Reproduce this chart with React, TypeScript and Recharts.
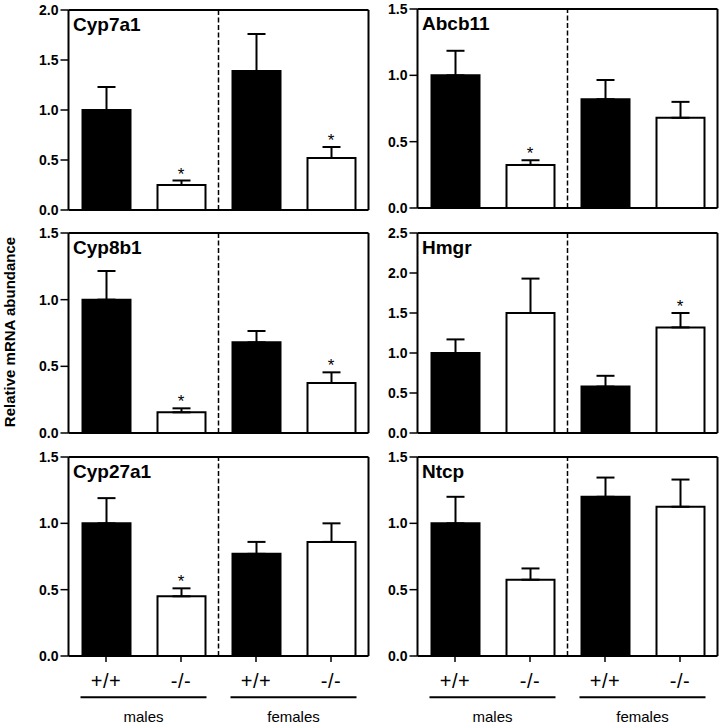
import React from 'react';
import { ComposedChart, Bar, Cell, XAxis, YAxis, ErrorBar, ReferenceLine, Scatter } from 'recharts';

// ---- categories / labels ----
const positions = [0.5, 1.5, 2.5, 3.5];
const genotypeLabels = ['+/+', '-/-', '+/+', '-/-'];
const groupPositions = [1, 3];
const groupLabels = ['males', 'females'];
const barFills = ['#000000', '#ffffff', '#000000', '#ffffff'];

// ---- data (mean, SEM upper, significance) ----
const cyp7a1Mean = [1.0, 0.25, 1.39, 0.52];
const cyp7a1Err = [0.23, 0.045, 0.37, 0.11];
const cyp7a1Sig = [false, true, false, true];

const abcb11Mean = [1.0, 0.325, 0.82, 0.68];
const abcb11Err = [0.185, 0.035, 0.145, 0.12];
const abcb11Sig = [false, true, false, false];

const cyp8b1Mean = [1.0, 0.155, 0.68, 0.375];
const cyp8b1Err = [0.215, 0.03, 0.085, 0.08];
const cyp8b1Sig = [false, true, false, true];

const hmgrMean = [1.0, 1.5, 0.58, 1.32];
const hmgrErr = [0.17, 0.43, 0.135, 0.18];
const hmgrSig = [false, false, false, true];

const cyp27a1Mean = [1.0, 0.45, 0.77, 0.86];
const cyp27a1Err = [0.19, 0.06, 0.09, 0.14];
const cyp27a1Sig = [false, true, false, false];

const ntcpMean = [1.0, 0.575, 1.2, 1.125];
const ntcpErr = [0.2, 0.085, 0.145, 0.205];
const ntcpSig = [false, false, false, false];

const ticks15 = [0, 0.5, 1.0, 1.5];
const ticks20 = [0, 0.5, 1.0, 1.5, 2.0];
const ticks25 = [0, 0.5, 1.0, 1.5, 2.0, 2.5];

const FONT = "Arial, 'Liberation Sans', Helvetica, sans-serif";

type PanelProps = {
  title: string;
  mean: number[];
  err: number[];
  sig: boolean[];
  yMax: number;
  yTicks: number[];
  left: number;
  plotTop: number;
  plotHeight: number;
  bottomRow: boolean;
};

const GroupTick = (props: any) => {
  const { x, y, payload } = props;
  const idx = groupPositions.indexOf(payload.value);
  return (
    <g>
      <line x1={x - 63} x2={x + 63} y1={y + 11.3} y2={y + 11.3} stroke="#000" strokeWidth={2} />
      <text x={x} y={y + 35.7} textAnchor="middle" fontSize={15} fill="#000" fontFamily={FONT}>
        {groupLabels[idx]}
      </text>
    </g>
  );
};

const StarShape = (props: any) => {
  const { cx, cy } = props;
  if (cx == null || cy == null || isNaN(cy)) return <g />;
  return (
    <text x={cx} y={cy - 1} textAnchor="middle" fontSize={17} fill="#000" fontFamily={FONT}>
      *
    </text>
  );
};

function Panel(p: PanelProps) {
  const data = positions.map((x, i) => ({
    x,
    mean: p.mean[i],
    errRange: [0, p.err[i]],
  }));
  const starData = positions
    .map((x, i) => ({ x, star: p.sig[i] ? p.mean[i] + p.err[i] : null }))
    .filter((d) => d.star !== null);
  const topMargin = 10;
  const mainAxisH = p.bottomRow ? 30 : 10;
  const grpAxisH = p.bottomRow ? 38 : 0;
  const height = topMargin + p.plotHeight + mainAxisH + grpAxisH;
  return (
    <div style={{ position: 'absolute', left: p.left, top: p.plotTop - topMargin }}>
      <ComposedChart
        width={370}
        height={height}
        data={data}
        margin={{ top: topMargin, right: 1.5, left: 0, bottom: 0 }}
      >
        <XAxis
          dataKey="x"
          type="number"
          domain={[0, 4]}
          ticks={positions}
          interval={0}
          allowDataOverflow
          height={mainAxisH}
          axisLine={{ stroke: '#000', strokeWidth: 2 }}
          tickLine={{ stroke: '#000', strokeWidth: 1.5 }}
          tickSize={6}
          tickMargin={12}
          tick={p.bottomRow ? { fill: '#000', fontSize: 20, fontFamily: FONT, letterSpacing: 0.5 } : false}
          tickFormatter={(v: number) => genotypeLabels[positions.indexOf(v)] ?? ''}
        />
        {p.bottomRow && (
          <XAxis
            xAxisId="grp"
            dataKey="x"
            type="number"
            domain={[0, 4]}
            ticks={groupPositions}
            interval={0}
            allowDataOverflow
            height={grpAxisH}
            axisLine={false}
            tickLine={false}
            tickSize={0}
            tickMargin={0}
            tick={<GroupTick />}
          />
        )}
        <YAxis
          type="number"
          domain={[0, p.yMax]}
          ticks={p.yTicks}
          interval={0}
          allowDataOverflow
          width={68.5}
          axisLine={{ stroke: '#000', strokeWidth: 2 }}
          tickLine={{ stroke: '#000', strokeWidth: 1.5 }}
          tickSize={8}
          tickMargin={2}
          tick={{ fill: '#000', fontSize: 14, fontWeight: 'bold', fontFamily: FONT }}
          tickFormatter={(v: number) => v.toFixed(1)}
        />
        <ReferenceLine y={p.yMax} stroke="#000" strokeWidth={2} />
        <ReferenceLine x={4} stroke="#000" strokeWidth={2} />
        <ReferenceLine x={2} stroke="#000" strokeWidth={1.5} strokeDasharray="5 2.5" />
        <Bar dataKey="mean" barSize={48} stroke="#000" strokeWidth={2} isAnimationActive={false}>
          {data.map((_, i) => (
            <Cell key={i} fill={barFills[i]} />
          ))}
          <ErrorBar dataKey="errRange" direction="y" width={9} stroke="#000" strokeWidth={2} isAnimationActive={false} />
        </Bar>
        <Scatter data={starData} dataKey="star" shape={<StarShape />} isAnimationActive={false} />
      </ComposedChart>
    </div>
  );
}

const panels: PanelProps[] = [
  { title: 'Cyp7a1', mean: cyp7a1Mean, err: cyp7a1Err, sig: cyp7a1Sig, yMax: 2.0, yTicks: ticks20, left: 0, plotTop: 10, plotHeight: 200, bottomRow: false },
  { title: 'Abcb11', mean: abcb11Mean, err: abcb11Err, sig: abcb11Sig, yMax: 1.5, yTicks: ticks15, left: 349, plotTop: 9, plotHeight: 199, bottomRow: false },
  { title: 'Cyp8b1', mean: cyp8b1Mean, err: cyp8b1Err, sig: cyp8b1Sig, yMax: 1.5, yTicks: ticks15, left: 0, plotTop: 233, plotHeight: 200, bottomRow: false },
  { title: 'Hmgr', mean: hmgrMean, err: hmgrErr, sig: hmgrSig, yMax: 2.5, yTicks: ticks25, left: 349, plotTop: 233, plotHeight: 200, bottomRow: false },
  { title: 'Cyp27a1', mean: cyp27a1Mean, err: cyp27a1Err, sig: cyp27a1Sig, yMax: 1.5, yTicks: ticks15, left: 0, plotTop: 457, plotHeight: 199, bottomRow: true },
  { title: 'Ntcp', mean: ntcpMean, err: ntcpErr, sig: ntcpSig, yMax: 1.5, yTicks: ticks15, left: 349, plotTop: 457, plotHeight: 199, bottomRow: true },
];

export default function App() {
  return (
    <div
      style={{
        position: 'absolute',
        left: 0,
        top: 0,
        width: 722,
        height: 725,
        overflow: 'hidden',
        background: '#fff',
        fontFamily: FONT,
      }}
    >
      {panels.map((p) => (
        <Panel key={p.title} {...p} />
      ))}
      <svg
        width={722}
        height={725}
        style={{ position: 'absolute', left: 0, top: 0, pointerEvents: 'none' }}
      >
        {panels.map((p) => (
          <text
            key={p.title}
            x={p.left + 68.5 + 4.5}
            y={p.plotTop + 20.5}
            fontSize={19}
            fontWeight="bold"
            fill="#000"
            fontFamily={FONT}
          >
            {p.title}
          </text>
        ))}
        <text
          transform="translate(15,332) rotate(-90)"
          textAnchor="middle"
          fontSize={15}
          fontWeight="bold"
          fill="#000"
          fontFamily={FONT}
        >
          Relative mRNA abundance
        </text>
      </svg>
    </div>
  );
}
